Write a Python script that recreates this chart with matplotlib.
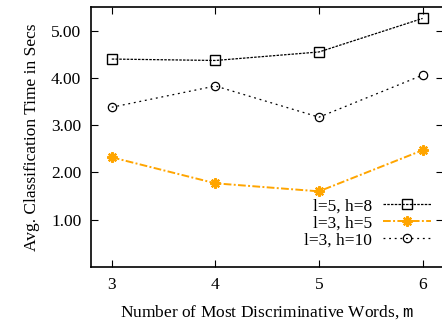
import matplotlib
matplotlib.use("Agg")
import matplotlib.pyplot as plt

# data
m_words = [3, 4, 5, 6]
time_l5_h8 = [4.40, 4.37, 4.55, 5.26]
time_l3_h5 = [2.32, 1.77, 1.60, 2.47]
time_l3_h10 = [3.38, 3.83, 3.17, 4.06]
y_ticks = [1.0, 2.0, 3.0, 4.0, 5.0]

ORANGE = "#FFA500"

plt.rcParams['font.family'] = ['Liberation Serif', 'DejaVu Serif']
plt.rcParams['mathtext.fontset'] = 'custom'
plt.rcParams['mathtext.tt'] = 'Liberation Mono'

fig = plt.figure(figsize=(4.42, 3.22), dpi=100)
ax = fig.add_axes([0.206, 0.171, 0.797, 0.807])

ax.plot(m_words, time_l5_h8, color="black", linestyle=(0, (2, 1)), linewidth=0.9,
        marker="s", markersize=6.5, markerfacecolor="none", markeredgecolor="black",
        markeredgewidth=1.0, label="l=5, h=8")
ax.plot(m_words, time_l3_h5, color=ORANGE, linestyle=(0, (4, 1.2, 1, 1.2)), linewidth=1.4,
        marker=(8, 2, 0), markersize=7.5, markeredgecolor=ORANGE, markeredgewidth=1.6,
        label="l=3, h=5")
ax.plot(m_words, time_l3_h10, color="black", linestyle=(0, (1.5, 3)), linewidth=0.9,
        marker="o", markersize=6, markerfacecolor="none", markeredgecolor="black",
        markeredgewidth=0.9, label="l=3, h=10")

ax.set_xlim(2.8, 6.2)
ax.set_ylim(0, 5.5)
ax.set_xticks(m_words)
ax.set_yticks(y_ticks)
ax.set_yticklabels(["%.2f" % v for v in y_ticks])
ax.tick_params(direction="in", top=True, right=True, labelsize=12.5, length=5, width=0.8, pad=7)

for s in ax.spines.values():
    s.set_linewidth(1.2)

ax.set_xlabel(r"Number of Most Discriminative Words, $\mathtt{m}$", fontsize=12.5, labelpad=8)
ax.set_ylabel("Avg. Classification Time in Secs", fontsize=12.5, labelpad=8)

leg = ax.legend(loc="lower right", bbox_to_anchor=(1.0, 0.025), frameon=False,
                markerfirst=False, fontsize=12.5, handlelength=2.8, labelspacing=0.05,
                handletextpad=0.6, borderpad=0.2)
for t in leg.get_texts():
    t.set_ha("right")

fig.savefig("out.png", dpi=100)
